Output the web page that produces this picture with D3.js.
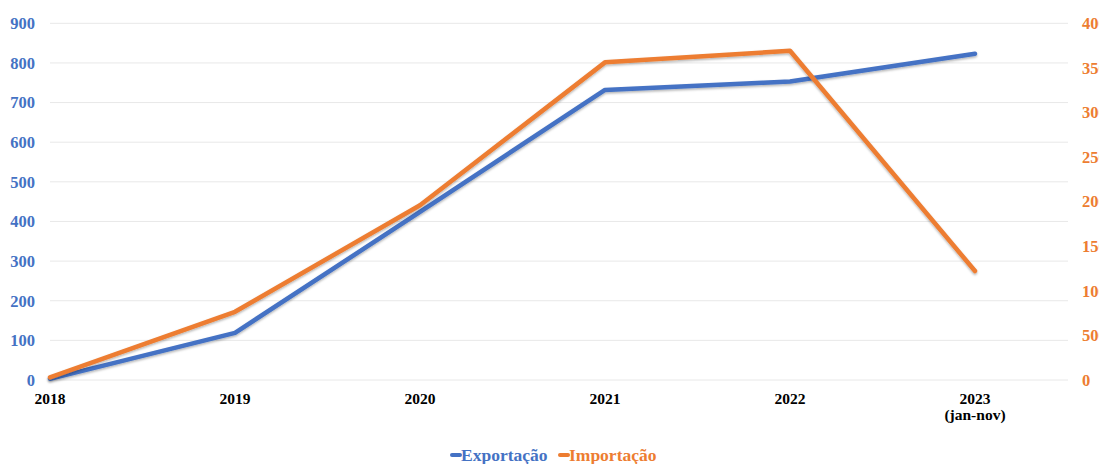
<!DOCTYPE html>
<html>
<head>
<meta charset="utf-8">
<script src="https://cdn.jsdelivr.net/npm/d3@7"></script>
<style>
  html, body { margin: 0; padding: 0; background: #fff; overflow: hidden; }
  svg { display: block; }
  text { font-family: "Liberation Serif", "Times New Roman", serif; font-weight: bold; }
</style>
</head>
<body>
<svg id="chart" width="1099" height="464"></svg>
<script>
// Years on the category axis (last one is a partial year)
const years = ["2018", "2019", "2020", "2021", "2022", "2023"];
const yearNotes = ["", "", "", "", "", "(jan-nov)"];

// Exports, left axis
const exportacao = [3, 119, 424, 732, 753, 823];
// Imports, right axis
const importacao = [30, 765, 1960, 3562, 3692, 1222];

const leftTicks = [0, 100, 200, 300, 400, 500, 600, 700, 800, 900];
const rightTicks = [0, 500, 1000, 1500, 2000, 2500, 3000, 3500, 4000];

const seriesNames = ["Exportação", "Importação"];
const blue = "#4472C4", orange = "#ED7D31";

const svg = d3.select("#chart");
const plot = { left: 50, right: 1068, top: 23.3, bottom: 380 };

// soft shadow under the series lines
const defs = svg.append("defs");
defs.append("filter").attr("id", "lineShadow")
  .attr("x", "-5%").attr("y", "-5%").attr("width", "110%").attr("height", "120%")
  .append("feDropShadow")
  .attr("dx", 0).attr("dy", 1.5).attr("stdDeviation", 0.8)
  .attr("flood-color", "#000").attr("flood-opacity", 0.3);

const x = d3.scalePoint().domain(years).range([plot.left, 975]);
const yL = d3.scaleLinear().domain([0, 900]).range([plot.bottom, plot.top]);
const yR = d3.scaleLinear().domain([0, 4000]).range([plot.bottom, plot.top]);

// horizontal gridlines
svg.append("g").selectAll("line").data(leftTicks).join("line")
  .attr("x1", plot.left).attr("x2", plot.right)
  .attr("y1", d => yL(d)).attr("y2", d => yL(d))
  .attr("stroke", "#e8e8e8").attr("stroke-width", 1);

// left axis (values only)
const axL = svg.append("g").attr("transform", `translate(${plot.left - 15},0)`)
  .call(d3.axisLeft(yL).tickValues(leftTicks).tickSize(0).tickPadding(0).tickFormat(d3.format("d")));
axL.select(".domain").remove();
axL.selectAll("text").attr("fill", blue).style("font-size", "16.5px")
  .style("font-family", "'Liberation Serif', serif").style("font-weight", "bold");

// right axis (values only)
const axR = svg.append("g").attr("transform", `translate(${plot.right + 14},0)`)
  .call(d3.axisRight(yR).tickValues(rightTicks).tickSize(0).tickPadding(0).tickFormat(d3.format("d")));
axR.select(".domain").remove();
axR.selectAll("text").attr("fill", orange).style("font-size", "16.5px")
  .style("font-family", "'Liberation Serif', serif").style("font-weight", "bold");

// category labels
const xl = svg.append("g").selectAll("text").data(years).join("text")
  .attr("x", d => x(d)).attr("y", 404)
  .attr("text-anchor", "middle").attr("fill", "#000").style("font-size", "15.5px");
xl.append("tspan").text(d => d);
xl.filter(d => yearNotes[years.indexOf(d)]).append("tspan")
  .attr("x", d => x(d)).attr("dy", 16)
  .text(d => yearNotes[years.indexOf(d)]);

// lines
const lineL = d3.line().x((d, i) => x(years[i])).y(d => yL(d));
const lineR = d3.line().x((d, i) => x(years[i])).y(d => yR(d));

svg.append("path").datum(exportacao).attr("d", lineL)
  .attr("fill", "none").attr("stroke", blue).attr("stroke-width", 4.5)
  .attr("stroke-linejoin", "round").attr("stroke-linecap", "round")
  .attr("filter", "url(#lineShadow)");
svg.append("path").datum(importacao).attr("d", lineR)
  .attr("fill", "none").attr("stroke", orange).attr("stroke-width", 4.5)
  .attr("stroke-linejoin", "round").attr("stroke-linecap", "round")
  .attr("filter", "url(#lineShadow)");

// legend
const legend = svg.append("g");
const legendItems = [
  { name: seriesNames[0], color: blue, x: 451 },
  { name: seriesNames[1], color: orange, x: 559 }
];
legendItems.forEach(it => {
  legend.append("line").attr("x1", it.x + 1).attr("x2", it.x + 9)
    .attr("y1", 455).attr("y2", 455)
    .attr("stroke", it.color).attr("stroke-width", 4).attr("stroke-linecap", "round");
  legend.append("text").attr("x", it.x + 10).attr("y", 461)
    .attr("fill", it.color).style("font-size", "17.5px").text(it.name);
});
</script>
</body>
</html>
